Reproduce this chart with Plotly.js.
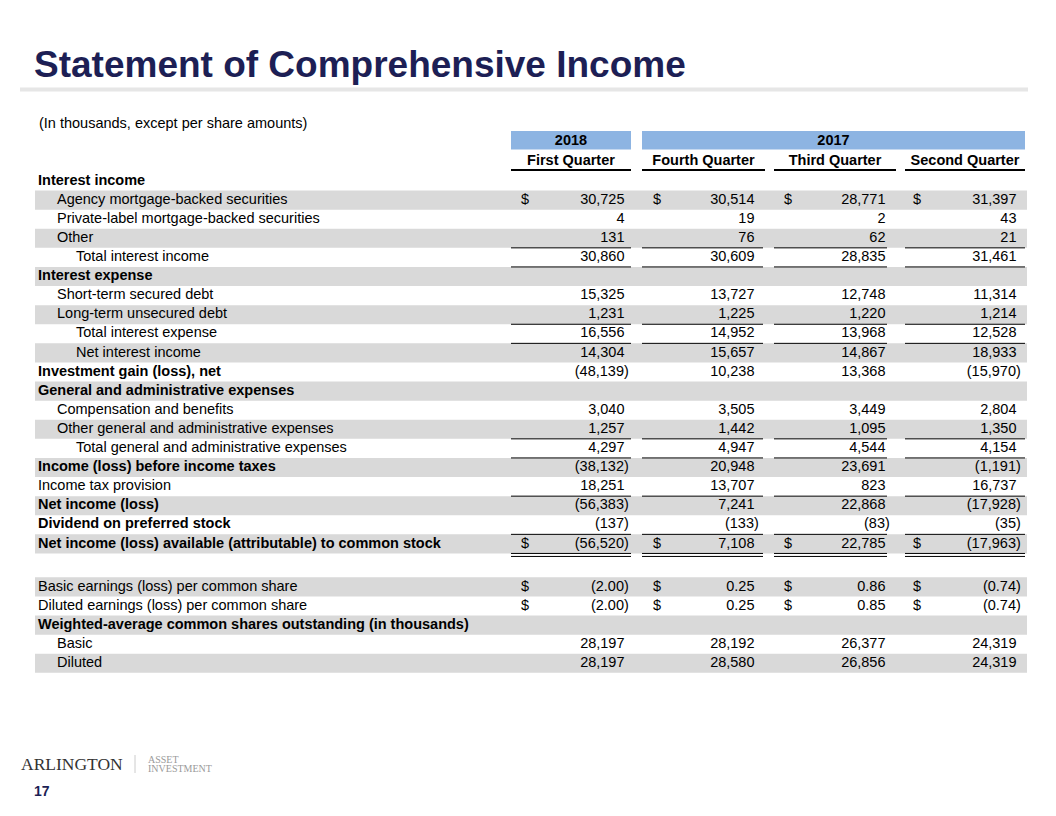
<!DOCTYPE html>
<html>
<head>
<meta charset="utf-8">
<script src="https://cdn.plot.ly/plotly-3.0.1.min.js"></script>
<style>
  html, body { margin: 0; padding: 0; background: #ffffff; }
  #chart { width: 1056px; height: 816px; }
</style>
</head>
<body>
<div id="chart"></div>
<script>
// ---------------- DATA ----------------
const years = ["2018", "2017"];
const quarters = ["First Quarter", "Fourth Quarter", "Third Quarter", "Second Quarter"];

const labels = [
  "Interest income",
  "Agency mortgage-backed securities",
  "Private-label mortgage-backed securities",
  "Other",
  "Total interest income",
  "Interest expense",
  "Short-term secured debt",
  "Long-term unsecured debt",
  "Total interest expense",
  "Net interest income",
  "Investment gain (loss), net",
  "General and administrative expenses",
  "Compensation and benefits",
  "Other general and administrative expenses",
  "Total general and administrative expenses",
  "Income (loss) before income taxes",
  "Income tax provision",
  "Net income (loss)",
  "Dividend on preferred stock",
  "Net income (loss) available (attributable) to common stock",
  "",
  "Basic earnings (loss) per common share",
  "Diluted earnings (loss) per common share",
  "Weighted-average common shares outstanding (in thousands)",
  "Basic",
  "Diluted"
];

const q1_2018 = [null, 30725, 4, 131, 30860, null, 15325, 1231, 16556, 14304, -48139, null, 3040, 1257, 4297, -38132, 18251, -56383, -137, -56520, null, -2.00, -2.00, null, 28197, 28197];
const q4_2017 = [null, 30514, 19, 76, 30609, null, 13727, 1225, 14952, 15657, 10238, null, 3505, 1442, 4947, 20948, 13707, 7241, -133, 7108, null, 0.25, 0.25, null, 28192, 28580];
const q3_2017 = [null, 28771, 2, 62, 28835, null, 12748, 1220, 13968, 14867, 13368, null, 3449, 1095, 4544, 23691, 823, 22868, -83, 22785, null, 0.86, 0.85, null, 26377, 26856];
const q2_2017 = [null, 31397, 43, 21, 31461, null, 11314, 1214, 12528, 18933, -15970, null, 2804, 1350, 4154, -1191, 16737, -17928, -35, -17963, null, -0.74, -0.74, null, 24319, 24319];

const dollarRows = [1, 19, 21, 22];
const perShareRows = [21, 22];

// ---------------- FORMAT / LAYOUT (styles kept apart from data) ----------------
const boldRows = [0, 5, 10, 11, 15, 17, 18, 19, 23];
const indentLevel = [0,1,1,1,2,0,1,1,2,2,0,0,1,1,2,0,0,0,0,0,0,0,0,0,1,1];
const singleRuleAfter = [3, 4, 7, 8, 13, 14, 16, 18];
const doubleRuleAfter = [19];

const ROW_PX = 19.1;
const TOP_PX = 181;
const W = 1056, H = 816;
const indentX = [38, 57, 76];
const cols = [
  {l: 511, r: 631, hl: 511, hr: 631, num: 624.5, usd: 521},
  {l: 642, r: 763, hl: 642, hr: 765, num: 754.5, usd: 653},
  {l: 774, r: 887, hl: 774, hr: 896, num: 885.5, usd: 784},
  {l: 905, r: 1025, hl: 905, hr: 1025, num: 1016.5, usd: 913}
];
const yearSpans = [[511, 631], [642, 1025]];
const bandL = 35, bandR = 1027;
const FONT = "Liberation Sans, Arial, sans-serif";
const NAVY = "#1d1f55";
const series = [q1_2018, q4_2017, q3_2017, q2_2017];

function rowY(i) { return i + (i > 20 ? 0.25 : 0); }
function pxY(p) { return (p - TOP_PX) / ROW_PX; }
function fmt(v, i) {
  const d = perShareRows.includes(i) ? 2 : 0;
  const s = Math.abs(v).toLocaleString("en-US", {minimumFractionDigits: d, maximumFractionDigits: d});
  return v < 0 ? "(" + s + ")" : s;
}

const traces = [];

// row labels
traces.push({
  type: "scatter", mode: "text", hoverinfo: "skip", cliponaxis: false, showlegend: false,
  x: labels.map((_, i) => indentX[indentLevel[i]]),
  y: labels.map((_, i) => rowY(i)),
  text: labels.map((t, i) => boldRows.includes(i) ? "<b>" + t + "</b>" : t),
  textposition: "middle right",
  textfont: {family: FONT, size: 14.5, color: "#000000"}
});

// value columns
series.forEach((vals, c) => {
  const idx = vals.map((v, i) => i).filter(i => vals[i] !== null);
  traces.push({
    type: "scatter", mode: "text", hoverinfo: "skip", cliponaxis: false, showlegend: false,
    x: idx.map(i => cols[c].num + (vals[i] < 0 ? 4.3 : 0)),
    y: idx.map(i => rowY(i)),
    text: idx.map(i => fmt(vals[i], i)),
    textposition: "middle left",
    textfont: {family: FONT, size: 14.5, color: "#000000"}
  });
  traces.push({
    type: "scatter", mode: "text", hoverinfo: "skip", cliponaxis: false, showlegend: false,
    x: dollarRows.map(() => cols[c].usd),
    y: dollarRows.map(i => rowY(i)),
    text: dollarRows.map(() => "$"),
    textposition: "middle right",
    textfont: {family: FONT, size: 14.5, color: "#000000"}
  });
});

// header texts
traces.push({
  type: "scatter", mode: "text", hoverinfo: "skip", cliponaxis: false, showlegend: false,
  x: yearSpans.map(s => (s[0] + s[1]) / 2),
  y: years.map(() => pxY(141)),
  text: years.map(t => "<b>" + t + "</b>"),
  textposition: "middle center",
  textfont: {family: FONT, size: 14.5, color: "#000000"}
});
traces.push({
  type: "scatter", mode: "text", hoverinfo: "skip", cliponaxis: false, showlegend: false,
  x: cols.map(c => (c.hl + c.hr) / 2),
  y: quarters.map(() => pxY(161)),
  text: quarters.map(t => "<b>" + t + "</b>"),
  textposition: "middle center",
  textfont: {family: FONT, size: 14.5, color: "#000000"}
});

// ---------------- SHAPES ----------------
const shapes = [];
// zebra bands
labels.forEach((_, i) => {
  if (i % 2 === 1) {
    shapes.push({type: "rect", xref: "x", yref: "y", layer: "below",
      x0: bandL, x1: bandR, y0: rowY(i) - 0.5, y1: rowY(i) + 0.5,
      fillcolor: "#d9d9d9", line: {width: 0}});
  }
});
// year header bands
yearSpans.forEach(s => {
  shapes.push({type: "rect", xref: "x", yref: "y", layer: "below",
    x0: s[0], x1: s[1], y0: pxY(131), y1: pxY(149.5),
    fillcolor: "#8db4e2", line: {width: 0}});
});
// header underlines
cols.forEach(c => {
  shapes.push({type: "line", xref: "x", yref: "y", x0: c.hl, x1: c.hr,
    y0: pxY(170), y1: pxY(170), line: {color: "#000000", width: 2}});
});
// total rules
singleRuleAfter.forEach(i => {
  cols.forEach(c => {
    shapes.push({type: "line", xref: "x", yref: "y", x0: c.l, x1: c.r,
      y0: rowY(i) + 0.5, y1: rowY(i) + 0.5, line: {color: "#000000", width: 1}});
  });
});
doubleRuleAfter.forEach(i => {
  cols.forEach(c => {
    [0.5, 0.5 + 3 / ROW_PX].forEach(off => {
      shapes.push({type: "line", xref: "x", yref: "y", x0: c.l, x1: c.r,
        y0: rowY(i) + off, y1: rowY(i) + off, line: {color: "#000000", width: 1}});
    });
  });
});
// title rule
shapes.push({type: "rect", xref: "paper", yref: "paper",
  x0: 20 / W, x1: 1028 / W, y0: 1 - 91.5 / H, y1: 1 - 87.5 / H,
  fillcolor: "#e6e6e6", line: {width: 0}});
// logo divider
shapes.push({type: "line", xref: "paper", yref: "paper",
  x0: 135 / W, x1: 135 / W, y0: 1 - 773 / H, y1: 1 - 755 / H,
  line: {color: "#cccccc", width: 1}});

// ---------------- ANNOTATIONS ----------------
const annotations = [
  {xref: "paper", yref: "paper", x: 37 / W, y: 1 - 123 / H, xanchor: "left", yanchor: "middle",
   showarrow: false, text: "(In thousands, except per share amounts)",
   font: {family: FONT, size: 14.5, color: "#000000"}},
  {xref: "paper", yref: "paper", x: 19 / W, y: 1 - 764 / H, xanchor: "left", yanchor: "middle",
   showarrow: false, text: "ARLINGTON",
   font: {family: "Liberation Serif, Times New Roman, serif", size: 17.5, color: "#333333"}},
  {xref: "paper", yref: "paper", x: 146 / W, y: 1 - 759.5 / H, xanchor: "left", yanchor: "middle",
   showarrow: false, text: "ASSET",
   font: {family: "Liberation Serif, Times New Roman, serif", size: 10, color: "#9a9a9a"}},
  {xref: "paper", yref: "paper", x: 146 / W, y: 1 - 768.5 / H, xanchor: "left", yanchor: "middle",
   showarrow: false, text: "INVESTMENT",
   font: {family: "Liberation Serif, Times New Roman, serif", size: 10, color: "#9a9a9a"}},
  {xref: "paper", yref: "paper", x: 32 / W, y: 1 - 791 / H, xanchor: "left", yanchor: "middle",
   showarrow: false, text: "<b>17</b>",
   font: {family: FONT, size: 14, color: NAVY}}
];

const layout = {
  width: W, height: H,
  margin: {l: 0, r: 0, t: 0, b: 0, pad: 0},
  paper_bgcolor: "#ffffff", plot_bgcolor: "#ffffff",
  showlegend: false,
  title: {
    text: "<b>Statement of Comprehensive Income</b>",
    x: 34 / W, xref: "paper", xanchor: "left",
    y: 1 - 64 / H, yref: "container", yanchor: "middle",
    font: {family: FONT, size: 37, color: NAVY}
  },
  xaxis: {range: [0, W], visible: false, fixedrange: true, showgrid: false, zeroline: false},
  yaxis: {range: [pxY(H), pxY(0)], visible: false, fixedrange: true, showgrid: false, zeroline: false},
  shapes: shapes,
  annotations: annotations
};

Plotly.newPlot("chart", traces, layout, {staticPlot: true, displayModeBar: false});
</script>
</body>
</html>
